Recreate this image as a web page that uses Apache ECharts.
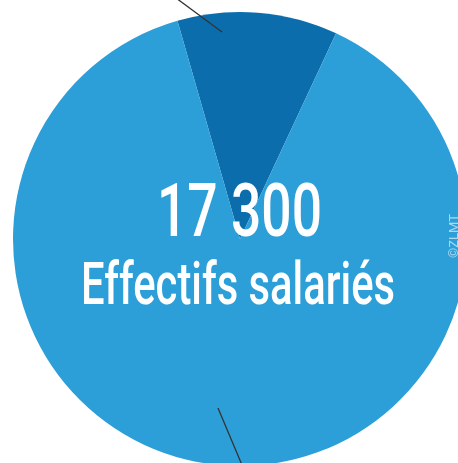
<!DOCTYPE html>
<html><head><meta charset="utf-8">
<script src="https://cdn.jsdelivr.net/npm/echarts@6/dist/echarts.min.js"></script>
<style>html,body{margin:0;padding:0;background:#fff}#c{width:458px;height:463px}</style>
</head><body><div id="c"></div>
<script>
const categories = ['Segment A', 'Segment B'];
const values = [11.4, 88.6];
const colors = ['#0c6dad', '#2d9fd8'];
const totalLabel = '17 300';
const subLabel = 'Effectifs salariés';
const watermark = '©ZLMT';

function fitText(text, cx, cy, fontSize, targetWidth, weight) {
  const ctx = document.createElement('canvas').getContext('2d');
  const font = weight + ' ' + fontSize + 'px Roboto';
  ctx.font = font;
  const w = ctx.measureText(text).width;
  return {
    type: 'text', x: cx, y: cy, z: 100, scaleX: targetWidth / w, scaleY: 1,
    style: { text: text, fill: '#fff', font: font, textAlign: 'center', textVerticalAlign: 'middle' }
  };
}

const chart = echarts.init(document.getElementById('c'));
chart.setOption({
  animation: false,
  series: [{
    type: 'pie',
    center: [240, 239],
    radius: [0, 227],
    startAngle: 106,
    silent: true,
    label: { show: false },
    labelLine: { show: false },
    itemStyle: { borderWidth: 0 },
    data: categories.map((c, i) => ({ name: c, value: values[i], itemStyle: { color: colors[i] } }))
  }],
  graphic: [
    fitText(totalLabel, 239.5, 217, 74, 165, 500),
    fitText(subLabel, 238, 289, 59, 314, 500),
    { type: 'line', z: 100, shape: { x1: 222, y1: 32, x2: 176, y2: -2 }, style: { stroke: '#333', lineWidth: 1.3 } },
    { type: 'line', z: 100, shape: { x1: 218, y1: 408, x2: 242, y2: 465 }, style: { stroke: '#333', lineWidth: 1.3 } },
    { type: 'text', z: 100, x: 455, y: 236, rotation: Math.PI / 2,
      style: { text: watermark, fill: 'rgba(255,255,255,0.6)', font: '13px Roboto', textAlign: 'center', textVerticalAlign: 'middle' } }
  ]
});
</script></body></html>
